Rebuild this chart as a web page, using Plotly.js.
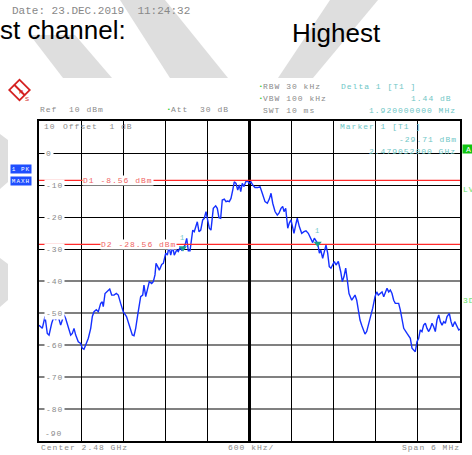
<!DOCTYPE html>
<html><head><meta charset="utf-8">
<script src="https://cdn.plot.ly/plotly-3.0.1.min.js"></script>
<style>html,body{margin:0;padding:0;background:#fff;}#chart{width:472px;height:455px;}</style>
</head><body><div id="chart"></div>
<script>
// ---- data ----
const centerMHz = 2480;
const spanMHz = 6;
const freqMHz = [2477.000,2477.047,2477.086,2477.118,2477.143,2477.181,2477.214,2477.238,2477.261,2477.285,2477.309,2477.332,2477.356,2477.380,2477.418,2477.452,2477.475,2477.499,2477.523,2477.560,2477.594,2477.617,2477.641,2477.666,2477.703,2477.737,2477.760,2477.784,2477.817,2477.845,2477.879,2477.902,2477.916,2477.941,2477.973,2478.008,2478.036,2478.069,2478.102,2478.130,2478.164,2478.201,2478.247,2478.297,2478.330,2478.354,2478.378,2478.407,2478.429,2478.449,2478.478,2478.496,2478.521,2478.544,2478.572,2478.606,2478.629,2478.653,2478.668,2478.692,2478.715,2478.749,2478.772,2478.806,2478.829,2478.853,2478.877,2478.906,2478.928,2478.963,2478.985,2479.010,2479.034,2479.052,2479.081,2479.105,2479.128,2479.152,2479.176,2479.191,2479.213,2479.238,2479.256,2479.280,2479.305,2479.333,2479.356,2479.380,2479.399,2479.427,2479.451,2479.466,2479.484,2479.518,2479.541,2479.565,2479.589,2479.612,2479.641,2479.665,2479.689,2479.712,2479.736,2479.761,2479.783,2479.808,2479.832,2479.855,2479.875,2479.897,2479.922,2479.946,2479.974,2479.997,2480.021,2480.046,2480.078,2480.117,2480.150,2480.182,2480.221,2480.254,2480.282,2480.307,2480.331,2480.364,2480.396,2480.420,2480.449,2480.473,2480.492,2480.516,2480.545,2480.567,2480.591,2480.613,2480.634,2480.658,2480.681,2480.710,2480.744,2480.777,2480.805,2480.838,2480.862,2480.901,2480.924,2480.948,2480.972,2480.996,2481.015,2481.043,2481.066,2481.090,2481.114,2481.137,2481.161,2481.186,2481.209,2481.233,2481.266,2481.300,2481.323,2481.347,2481.371,2481.394,2481.418,2481.457,2481.479,2481.504,2481.528,2481.551,2481.575,2481.599,2481.622,2481.646,2481.670,2481.693,2481.727,2481.756,2481.789,2481.813,2481.836,2481.864,2481.889,2481.913,2481.935,2481.960,2481.984,2482.007,2482.031,2482.055,2482.078,2482.126,2482.149,2482.174,2482.198,2482.245,2482.292,2482.316,2482.340,2482.363,2482.387,2482.411,2482.434,2482.458,2482.482,2482.506,2482.530,2482.554,2482.577,2482.601,2482.625,2482.648,2482.672,2482.697,2482.720,2482.744,2482.768,2482.791,2482.815,2482.848,2482.872,2482.896,2482.925,2482.948,2482.982,2483.000];
const levelDbm = [-53.8,-54.8,-51.1,-56.4,-56.9,-53.2,-51.1,-52.2,-50.1,-51.7,-53.8,-52.2,-50.6,-51.7,-54.8,-56.9,-56.4,-54.8,-56.9,-59.0,-59.5,-61.0,-61.3,-60.0,-57.9,-54.8,-51.1,-49.6,-49.0,-49.6,-47.0,-46.5,-48.0,-43.9,-43.3,-42.5,-44.4,-44.4,-43.9,-44.4,-47.0,-49.6,-51.1,-54.3,-56.9,-57.1,-54.8,-50.6,-48.0,-44.9,-44.4,-41.3,-44.9,-42.3,-40.2,-40.8,-40.2,-38.1,-34.5,-35.5,-36.6,-34.8,-34.5,-31.3,-31.9,-29.3,-31.9,-29.3,-31.9,-30.3,-30.8,-29.6,-30.3,-29.7,-28.8,-26.7,-30.6,-30.6,-27.2,-24.1,-24.6,-23.0,-21.5,-24.6,-24.1,-20.9,-20.4,-18.3,-20.9,-23.5,-24.1,-20.4,-17.3,-16.5,-17.3,-20.2,-20.4,-14.7,-14.4,-15.2,-15.0,-15.2,-14.2,-11.6,-9.0,-9.5,-11.6,-10.0,-12.1,-9.5,-10.5,-9.0,-8.8,-9.5,-9.0,-10.0,-10.8,-10.8,-10.5,-12.6,-15.2,-15.7,-14.4,-12.6,-15.7,-18.3,-19.4,-18.8,-17.3,-16.7,-18.3,-17.3,-23.5,-21.9,-20.9,-23.0,-25.1,-22.5,-20.4,-23.0,-25.1,-24.6,-24.3,-25.1,-26.3,-28.0,-26.6,-27.7,-28.3,-31.3,-30.3,-32.9,-30.8,-28.8,-31.3,-35.5,-36.0,-35.0,-33.9,-35.0,-33.9,-37.1,-40.2,-38.6,-36.0,-39.7,-43.9,-46.0,-45.4,-44.4,-46.0,-49.0,-52.2,-53.8,-55.3,-56.6,-55.8,-53.8,-51.7,-48.5,-44.9,-43.4,-44.4,-43.9,-43.4,-44.9,-43.4,-42.3,-43.4,-42.8,-43.9,-46.0,-47.0,-47.0,-49.0,-51.7,-54.8,-56.4,-57.9,-61.0,-61.6,-62.1,-59.0,-57.9,-55.3,-55.8,-53.8,-53.2,-54.8,-55.8,-54.8,-53.2,-54.3,-55.8,-52.2,-50.6,-52.7,-53.8,-52.7,-53.2,-51.1,-50.1,-52.7,-54.3,-52.7,-53.8,-55.3,-55.0];
const refLevelDbm = 10;
const bottomLevelDbm = -90;
const majorGridDbm = [0,-10,-20,-30];
const minorGridDbm = [-40,-50,-60,-70,-80];
const yLabelDbm = [0,-10,-20,-30,-40,-50,-60,-70,-80];
const lineNames = ['D1','D2'];
const lineLevels = [-8.56,-28.56];
const markerFreqMHz = [2479.052, 2480.972];
const markerLevels = [-29.71, -28.27];

// ---- helpers (pixel -> paper for decorations) ----
const L=39, R=460, T=121, B=441;
const px = x => (x-L)/(R-L);
const py = y => (B-y)/(B-T);
const sp = s => s.replace(/ /g,'\u00a0');
const MONO = 'Liberation Mono, monospace';
function itext(text, x, y, color, extra) {
  return Object.assign({xref:'paper', yref:'paper', x:px(x), y:py(y), xanchor:'left', yanchor:'middle',
    showarrow:false, borderpad:0,
    text:'<span style="letter-spacing:1px">'+sp(text)+'</span>',
    font:{family:MONO, size:8, color:color||'#8a8a8a'}}, extra||{});
}
function P(x,y){return px(x).toFixed(5)+','+py(y).toFixed(5);}
function poly(pts){return 'M'+pts.map(p=>P(p[0],p[1])).join('L')+'Z';}

const xOff = freqMHz.map(f => f-centerMHz);
const xTicks = [];
for (let i=1;i<10;i++){ if(i!==5) xTicks.push(-spanMHz/2 + i*spanMHz/10); }

const traces = [
  {x:xOff, y:levelDbm, type:'scatter', mode:'lines', line:{color:'#1530ff', width:1.4}, hoverinfo:'skip'},
];
lineLevels.forEach(v => traces.push({x:[-spanMHz/2, spanMHz/2], y:[v,v], type:'scatter', mode:'lines',
  line:{color:'#ff2a2a', width:1.3}, hoverinfo:'skip'}));
traces.push({x:markerFreqMHz.map(f=>f-centerMHz), y:markerLevels, type:'scatter', mode:'markers',
  marker:{symbol:'triangle-down', size:7, color:'#1a9e8c'}, hoverinfo:'skip'});

const ann = [];
// header outside instrument
ann.push({xref:'paper',yref:'paper',x:px(10),y:py(10.5),xanchor:'left',yanchor:'middle',showarrow:false,
  text:sp('Date: 23.DEC.2019  11:24:32'), font:{family:MONO,size:11,color:'#888'}});
ann.push({xref:'paper',yref:'paper',x:px(-2),y:py(30),xanchor:'left',yanchor:'middle',showarrow:false,
  text:'st channel:', font:{family:'Liberation Sans, Arial, sans-serif',size:26,color:'#000'}});
ann.push({xref:'paper',yref:'paper',x:px(290),y:py(33),xanchor:'left',yanchor:'middle',showarrow:false,
  text:'Highest', font:{family:'Liberation Sans, Arial, sans-serif',size:26,color:'#000'}});
// instrument header
ann.push(itext('Ref  10 dBm', 39, 110));
ann.push(itext('Att  30 dB', 170, 110));
ann.push(itext('RBW 30 kHz', 261.7, 86.7));
ann.push(itext('VBW 100 kHz', 261.7, 99));
ann.push(itext('SWT 10 ms', 261.7, 110.7));
['•','•','•'].forEach((d,i)=>ann.push({xref:'paper',yref:'paper',x:px([165,256.5,256.5][i]),y:py([110,86.7,99][i]),
  xanchor:'left',yanchor:'middle',showarrow:false,text:d,font:{family:MONO,size:6,color:'#33cc33'}}));
const CY='#6ec6c6';
ann.push(itext('Delta 1 [T1 ]', 340, 86.7, CY));
ann.push(itext('1.44 dB', 410, 99, CY));
ann.push(itext('1.920000000 MHz', 368, 110.7, CY));
ann.push(itext('Marker 1 [T1 ]', 339, 126.7, CY));
ann.push(itext('-29.71 dBm', 398, 139.3, CY));
ann.push(itext('2.479052000 GHz', 368, 151, CY));
ann.push(itext('10', 43, 126.7));
ann.push(itext('Offset  1 dB', 62, 126.7));
ann.push(itext('Center 2.48 GHz', 39.5, 447.5));
ann.push(itext('600 kHz/', 227, 447.5));
ann.push(itext('Span 6 MHz', 400.5, 447.5));
// y labels inside plot
yLabelDbm.forEach(v => ann.push(Object.assign(itext(v===0?'0':String(v), 43.5, 0), {yref:'y', y:v, bgcolor:'#fff', borderpad:1})));
ann.push(itext('-90', 43.5, 433));
// display line labels
lineLevels.forEach((v,i) => ann.push(Object.assign(itext(lineNames[i]+' '+v.toFixed(2)+' dBm', [82,100][i], 0, '#f06464'),
  {yref:'y', y:v, bgcolor:'#fff', borderpad:0})));
// marker labels
markerFreqMHz.forEach((f,i)=>ann.push({xref:'x',yref:'y',x:f-centerMHz,y:markerLevels[i],xanchor:'center',yanchor:'middle',
  xshift:-1,yshift:[10.5,12][i],showarrow:false,text:'1',font:{family:MONO,size:7,color:CY}}));
// side labels
ann.push(Object.assign(itext('1 PK', 10, 169.2, '#fff'), {bgcolor:'#1f4fff', width:20, height:8, font:{family:MONO,size:6,color:'#fff'}}));
ann.push(Object.assign(itext('MAXH', 10, 180.8, '#fff'), {bgcolor:'#1f4fff', width:20, height:8, font:{family:MONO,size:6,color:'#fff'}}));
ann.push(Object.assign(itext('A', 462, 149, '#fff'), {bgcolor:'#11c411', width:12, height:8, xanchor:'left'}));
ann.push(itext('LVL', 462.5, 189, '#66dd66'));
ann.push(itext('3DB', 462.5, 300, '#66dd66'));

const WM='#dedede';
const shapes = [
  {type:'path', xref:'paper', yref:'paper', layer:'below', line:{width:0}, fillcolor:WM, path:poly([[30,35],[75,35],[112,78],[63,78]])},
  {type:'path', xref:'paper', yref:'paper', layer:'below', line:{width:0}, fillcolor:WM, path:poly([[120,0],[165,0],[228,78],[170,78]])},
  {type:'path', xref:'paper', yref:'paper', layer:'below', line:{width:0}, fillcolor:WM, path:poly([[330,0],[378,0],[313,78],[278,78]])},
  {type:'path', xref:'paper', yref:'paper', layer:'below', line:{width:0}, fillcolor:WM, path:poly([[0,134],[8,140],[8,182],[0,189]])},
  {type:'path', xref:'paper', yref:'paper', layer:'below', line:{width:0}, fillcolor:WM, path:poly([[0,258],[8,264],[8,300],[0,307]])},
  // R&S logo
  {type:'path', xref:'paper', yref:'paper', line:{width:0}, fillcolor:'#d42020', path:poly([[19.5,78.5],[31,90],[19.5,101.5],[8,90]])},
  {type:'path', xref:'paper', yref:'paper', line:{width:0}, fillcolor:'#fff', path:poly([[19.5,81],[28.5,90],[19.5,99],[10.5,90]])},
  {type:'line', xref:'paper', yref:'paper', x0:px(14), y0:py(84.5), x1:px(25), y1:py(95.5), line:{color:'#d42020', width:2}},
];
ann.push({xref:'paper',yref:'paper',x:px(16.5),y:py(87),showarrow:false,text:'R',font:{family:'Liberation Sans',size:6,color:'#d42020'}});
ann.push({xref:'paper',yref:'paper',x:px(22.5),y:py(93.5),showarrow:false,text:'S',font:{family:'Liberation Sans',size:6,color:'#d42020'}});

const layout = {
  width:472, height:455, margin:{l:L, r:472-R, t:T, b:455-B, pad:0},
  paper_bgcolor:'#fff', plot_bgcolor:'#fff', showlegend:false, hovermode:false,
  xaxis:{range:[-spanMHz/2, spanMHz/2], tickmode:'array', tickvals:xTicks, showticklabels:false, ticks:'',
    showgrid:true, gridcolor:'#000', gridwidth:1, zeroline:true, zerolinecolor:'#000', zerolinewidth:2.5,
    showline:true, linecolor:'#000', linewidth:2, mirror:true, fixedrange:true},
  yaxis:{range:[bottomLevelDbm, refLevelDbm], tickmode:'array', tickvals:majorGridDbm, showticklabels:false, ticks:'',
    showgrid:true, gridcolor:'#000', gridwidth:1, zeroline:false,
    minor:{tickmode:'array', tickvals:minorGridDbm, showgrid:true, gridcolor:'#808080', gridwidth:1.5, ticks:''},
    showline:true, linecolor:'#000', linewidth:2, mirror:true, fixedrange:true},
  annotations:ann, shapes:shapes
};
Plotly.newPlot('chart', traces, layout, {displayModeBar:false, staticPlot:true});
</script></body></html>
